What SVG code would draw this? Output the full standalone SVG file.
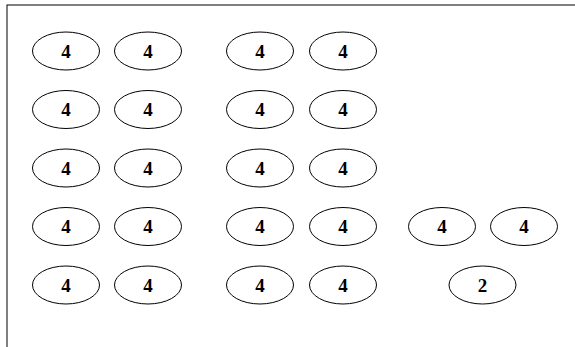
<svg xmlns="http://www.w3.org/2000/svg" width="575" height="347" viewBox="0 0 575 347">
<style>
.n ellipse{fill:none;stroke:#000;stroke-width:1}
.n text{font-family:"Liberation Serif","Times New Roman",serif;font-weight:bold;font-size:19px;text-anchor:middle;fill:#000}
</style>
<rect x="0" y="0" width="575" height="347" fill="#fff"/>
<rect x="7" y="5" width="580" height="360" fill="none" stroke="#000" stroke-width="1"/>
<g id="connectors"/>
<g id="r1c1" class="n"><ellipse cx="66" cy="51" rx="33.5" ry="19"/><text x="66" y="57.5">4</text></g>
<g id="r1c2" class="n"><ellipse cx="148" cy="51" rx="33.5" ry="19"/><text x="148" y="57.5">4</text></g>
<g id="r1c3" class="n"><ellipse cx="260" cy="51" rx="33.5" ry="19"/><text x="260" y="57.5">4</text></g>
<g id="r1c4" class="n"><ellipse cx="343" cy="51" rx="33.5" ry="19"/><text x="343" y="57.5">4</text></g>
<g id="r2c1" class="n"><ellipse cx="66" cy="109.5" rx="33.5" ry="19"/><text x="66" y="116">4</text></g>
<g id="r2c2" class="n"><ellipse cx="148" cy="109.5" rx="33.5" ry="19"/><text x="148" y="116">4</text></g>
<g id="r2c3" class="n"><ellipse cx="260" cy="109.5" rx="33.5" ry="19"/><text x="260" y="116">4</text></g>
<g id="r2c4" class="n"><ellipse cx="343" cy="109.5" rx="33.5" ry="19"/><text x="343" y="116">4</text></g>
<g id="r3c1" class="n"><ellipse cx="66" cy="168" rx="33.5" ry="19"/><text x="66" y="174.5">4</text></g>
<g id="r3c2" class="n"><ellipse cx="148" cy="168" rx="33.5" ry="19"/><text x="148" y="174.5">4</text></g>
<g id="r3c3" class="n"><ellipse cx="260" cy="168" rx="33.5" ry="19"/><text x="260" y="174.5">4</text></g>
<g id="r3c4" class="n"><ellipse cx="343" cy="168" rx="33.5" ry="19"/><text x="343" y="174.5">4</text></g>
<g id="r4c1" class="n"><ellipse cx="66" cy="226.5" rx="33.5" ry="19"/><text x="66" y="233">4</text></g>
<g id="r4c2" class="n"><ellipse cx="148" cy="226.5" rx="33.5" ry="19"/><text x="148" y="233">4</text></g>
<g id="r4c3" class="n"><ellipse cx="260" cy="226.5" rx="33.5" ry="19"/><text x="260" y="233">4</text></g>
<g id="r4c4" class="n"><ellipse cx="343" cy="226.5" rx="33.5" ry="19"/><text x="343" y="233">4</text></g>
<g id="r4c5" class="n"><ellipse cx="442" cy="226.5" rx="33.5" ry="19"/><text x="442" y="233">4</text></g>
<g id="r4c6" class="n"><ellipse cx="524" cy="226.5" rx="33.5" ry="19"/><text x="524" y="233">4</text></g>
<g id="r5c1" class="n"><ellipse cx="66" cy="285" rx="33.5" ry="19"/><text x="66" y="291.5">4</text></g>
<g id="r5c2" class="n"><ellipse cx="148" cy="285" rx="33.5" ry="19"/><text x="148" y="291.5">4</text></g>
<g id="r5c3" class="n"><ellipse cx="260" cy="285" rx="33.5" ry="19"/><text x="260" y="291.5">4</text></g>
<g id="r5c4" class="n"><ellipse cx="343" cy="285" rx="33.5" ry="19"/><text x="343" y="291.5">4</text></g>
<g id="r5c5" class="n"><ellipse cx="482.5" cy="285" rx="33.5" ry="19"/><text x="482.5" y="291.5">2</text></g>
</svg>
